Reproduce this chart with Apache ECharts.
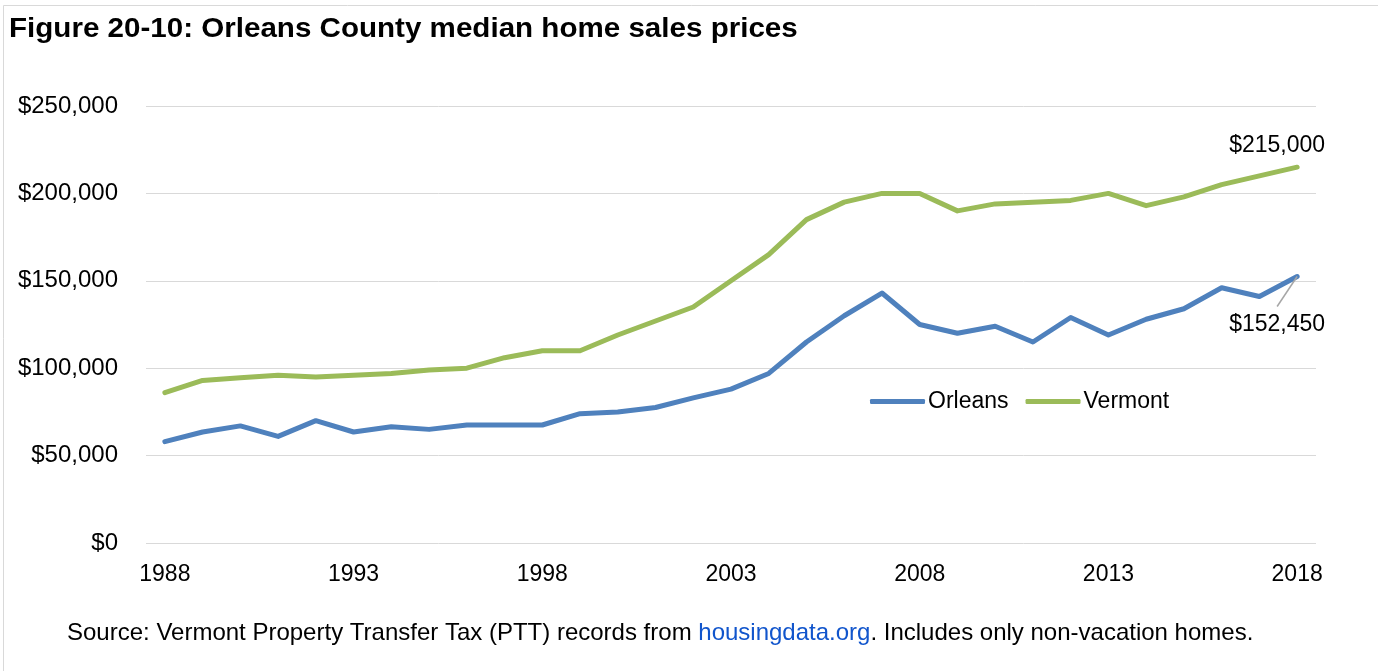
<!DOCTYPE html>
<html>
<head>
<meta charset="utf-8">
<script src="https://cdn.jsdelivr.net/npm/echarts@6/dist/echarts.min.js"></script>
<style>
  html, body { margin: 0; padding: 0; background: #fff; }
  #chart { width: 1378px; height: 671px; }
</style>
</head>
<body>
<div id="chart"></div>
<script>
// Median home sales prices, 1988–2018
const years = [];
for (let y = 1988; y <= 2018; y++) years.push(String(y));

const orleans = [58000, 63500, 67000, 61000, 70000, 63500, 66500, 65000, 67500, 67500,
  67500, 74000, 75000, 77500, 83000, 88000, 97000, 115000, 130000, 143000,
  125000, 120000, 124000, 115000, 129000, 119000, 128000, 134000, 146000, 141000, 152450];

const vermont = [86000, 93000, 94500, 96000, 95000, 96000, 97000, 99000, 100000, 106000,
  110000, 110000, 119000, 127000, 135000, 150000, 165000, 185000, 195000, 200000,
  200000, 190000, 194000, 195000, 196000, 200000, 193000, 198000, 205000, 210000, 215000];

const yTicks = [0, 50000, 100000, 150000, 200000, 250000];
const shownYears = ['1988', '1993', '1998', '2003', '2008', '2013', '2018'];

const FONT = 'Liberation Sans, Arial, sans-serif';
const money = v => '$' + v.toLocaleString('en-US');

const last = years.length - 1;
// Only the final point of each series carries a value label
function withEndLabel(values, extra) {
  return values.map((v, i) => i === last ? Object.assign({ value: v }, extra) : v);
}

const labelText = { fontSize: 23, fontFamily: FONT, color: '#000' };

const graphics = [
  {
    type: 'rect', silent: true,
    shape: { x: 3.5, y: 5.5, width: 1500, height: 800 },
    style: { fill: 'none', stroke: '#d9d9d9', lineWidth: 1 }
  },
  {
    type: 'text', left: 9, top: 15, scaleX: 1.056,
    style: {
      text: 'Figure 20-10: Orleans County median home sales prices',
      font: 'bold 28px ' + FONT, fill: '#000'
    }
  },
  {
    type: 'text', left: 67, top: 621,
    style: {
      text: '{a|Source: Vermont Property Transfer Tax (PTT) records from }{b|housingdata.org}{a|. Includes only non-vacation homes.}',
      rich: {
        a: { fontSize: 24, fontFamily: FONT, fill: '#000' },
        b: { fontSize: 24, fontFamily: FONT, fill: '#1155cc' }
      }
    }
  }
];

const option = {
  animation: false,
  backgroundColor: '#fff',
  textStyle: { fontFamily: FONT },
  graphic: graphics,
  legend: {
    left: 865, top: 385,
    itemWidth: 55, itemHeight: 5, itemGap: 17,
    icon: 'roundRect',
    textStyle: { fontSize: 23, fontFamily: FONT, color: '#000', padding: [0, 0, 0, -2] },
    data: ['Orleans', 'Vermont']
  },
  grid: { left: 146, right: 62, top: 106, bottom: 128, containLabel: false },
  xAxis: {
    type: 'category',
    data: years,
    boundaryGap: true,
    axisLine: { show: false },
    axisTick: { show: false },
    axisLabel: {
      fontSize: 23, fontFamily: FONT, color: '#000', margin: 20,
      interval: (i, v) => shownYears.includes(v)
    }
  },
  yAxis: {
    type: 'value',
    min: 0, max: 250000, interval: 50000,
    axisLine: { show: false },
    axisTick: { show: false },
    splitLine: { lineStyle: { color: '#d9d9d9', width: 1 } },
    axisLabel: {
      fontSize: 24, fontFamily: FONT, color: '#000', margin: 28,
      formatter: v => yTicks.includes(v) ? money(v) : ''
    }
  },
  series: [
    {
      name: 'Orleans', type: 'line',
      data: withEndLabel(orleans, {
        label: Object.assign({
          show: true, position: 'bottom', distance: 0,
          formatter: p => money(p.value)
        }, labelText)
      }),
      labelLayout: p => p.dataIndex === last ? { dx: -20, dy: 37 } : {},
      symbol: 'circle', symbolSize: 0, showSymbol: true,
      lineStyle: { color: '#4f81bd', width: 5, cap: 'round', join: 'round' },
      itemStyle: { color: '#4f81bd' }
    },
    {
      name: 'Vermont', type: 'line',
      data: withEndLabel(vermont, {
        label: Object.assign({
          show: true, position: 'top', distance: 10, offset: [-20, 0],
          formatter: p => money(p.value)
        }, labelText)
      }),
      symbol: 'circle', symbolSize: 0, showSymbol: true,
      lineStyle: { color: '#9bbb59', width: 5, cap: 'round', join: 'round' },
      itemStyle: { color: '#9bbb59' }
    }
  ]
};

const chart = echarts.init(document.getElementById('chart'));
chart.setOption(option);

// Leader line from the last Orleans point to its value label
const end = chart.convertToPixel({ seriesIndex: 0 }, [last, orleans[last]]);
graphics.push({
  type: 'line', silent: true, z: 5,
  shape: { x1: end[0], y1: end[1], x2: end[0] - 20, y2: end[1] + 30 },
  style: { stroke: '#a6a6a6', lineWidth: 1.5 }
});
chart.setOption(option, true);
</script>
</body>
</html>
